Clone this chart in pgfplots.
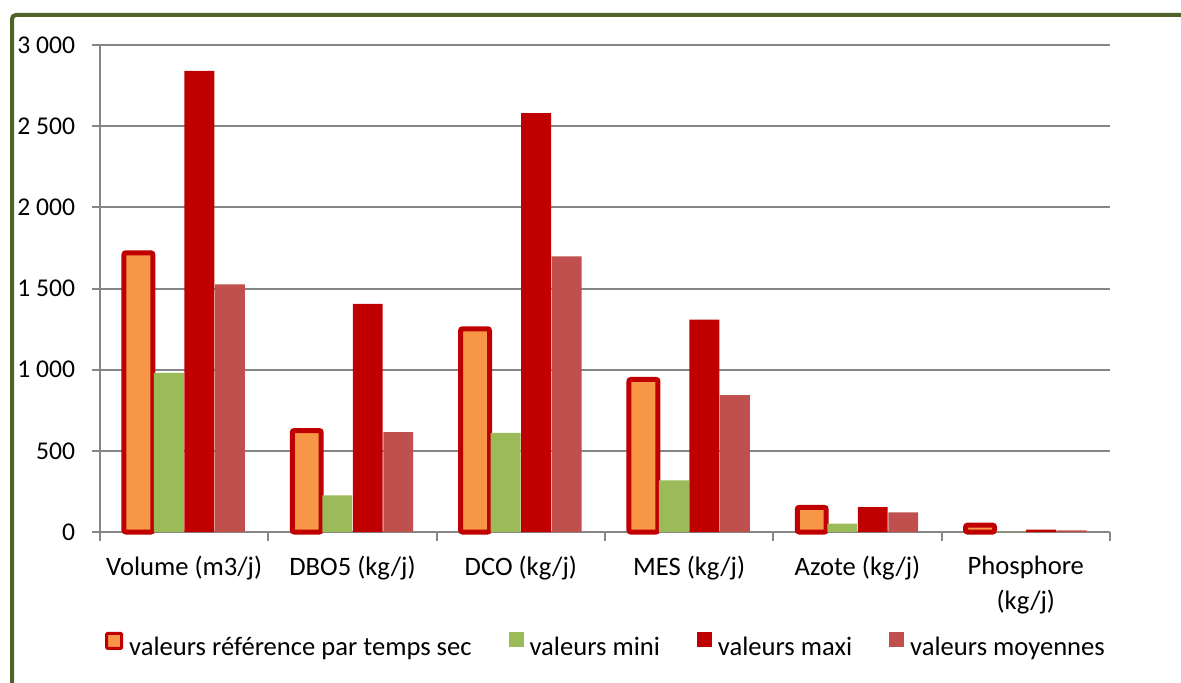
\documentclass[border=0pt]{standalone}
\usepackage{pgfplots}
\pgfplotsset{compat=1.18}
\usepackage{fontspec}
\setmainfont{Carlito}
\definecolor{frameol}{HTML}{4F6228}
\definecolor{refor}{HTML}{F79646}
\definecolor{refred}{HTML}{C00000}
\definecolor{minig}{HTML}{9BBB59}
\definecolor{maxr}{HTML}{C00000}
\definecolor{moyr}{HTML}{C0504D}
\definecolor{gridg}{HTML}{868686}
\newcommand{\lbl}{\fontsize{13.3pt}{17.5pt}\selectfont}
\newcommand{\ylbl}{\fontsize{12.8pt}{15pt}\selectfont}
\begin{document}
\begin{tikzpicture}
\path[use as bounding box] (0,0) rectangle (590.5pt,341pt);
\fill[white] (0,0) rectangle (590.5pt,341pt);
\draw[frameol, line width=2pt, rounded corners=2pt] (6pt,-10pt) -- (6pt,333.5pt) -- (600pt,333.5pt);
\begin{axis}[
  at={(50pt,75pt)}, anchor=south west,
  width=505pt, height=243.5pt, scale only axis,
  ybar=0pt, bar width=0.178,
  clip=false,
  ymin=0, ymax=3000, ytick={0,500,...,3000},
  yticklabels={0,500,1 000,1 500,2 000,2 500,3 000},
  xmin=-0.5, xmax=5.5,
  xtick={0,...,5},
  xticklabels={Volume (m3/j),DBO5 (kg/j),DCO (kg/j),MES (kg/j),Azote (kg/j),Phosphore\\(kg/j)},
  axis x line*=bottom, axis y line*=left,
  axis line style={gridg, line width=1pt},
  ymajorgrids, grid style={gridg, line width=1pt},
  tick align=outside, major tick length=4.25pt,
  tick style={gridg, line width=1pt},
  xtick style={draw=none},
  extra x ticks={-0.5,0.5,1.5,2.5,3.5,4.5,5.5},
  extra x tick labels={},
  extra x tick style={xtick style={draw=gridg}, grid=none},
  yticklabel style={font=\ylbl, anchor=east, inner sep=0pt, xshift=-8pt},
  xticklabel style={font=\lbl, anchor=north, inner sep=0pt, align=center, yshift=-7.5pt},
  legend columns=4,
  legend style={draw=none, fill=none, font=\lbl, at={(axis description cs:0.5,-0.232)}, anchor=center,
    nodes={inner sep=0pt},
    /tikz/every odd column/.append style={column sep=3pt},
    /tikz/every even column/.append style={column sep=18.5pt}},
  legend cell align=left,
]
\addplot[bar shift=-0.2718, bar width=0.172, fill=refor, draw=refred, line width=2.5pt, rounded corners=1pt,
  legend image code/.code={\draw[fill=refor,draw=refred,line width=1.5pt,rounded corners=0.5pt] (0.75pt,-0.5pt) rectangle (8.25pt,7pt);}]
  coordinates {(0,1720) (1,625) (2,1252) (3,940) (4,152) (5,42)};
\addplot[bar shift=-0.0906, fill=minig, draw=none,
  legend image code/.code={\fill[minig] (0pt,0pt) rectangle (7.5pt,7.5pt);}]
  coordinates {(0,980) (1,226) (2,610) (3,318) (4,52) (5,3)};
\addplot[bar shift=0.0906, fill=maxr, draw=none,
  legend image code/.code={\fill[maxr] (0pt,0pt) rectangle (7.5pt,7.5pt);}]
  coordinates {(0,2840) (1,1405) (2,2580) (3,1308) (4,154) (5,15)};
\addplot[bar shift=0.2718, fill=moyr, draw=none,
  legend image code/.code={\fill[moyr] (0pt,0pt) rectangle (7.5pt,7.5pt);}]
  coordinates {(0,1525) (1,615) (2,1698) (3,844) (4,121) (5,10)};
\legend{valeurs référence par temps sec, valeurs mini, valeurs maxi, valeurs moyennes}
\end{axis}
\end{tikzpicture}
\end{document}
